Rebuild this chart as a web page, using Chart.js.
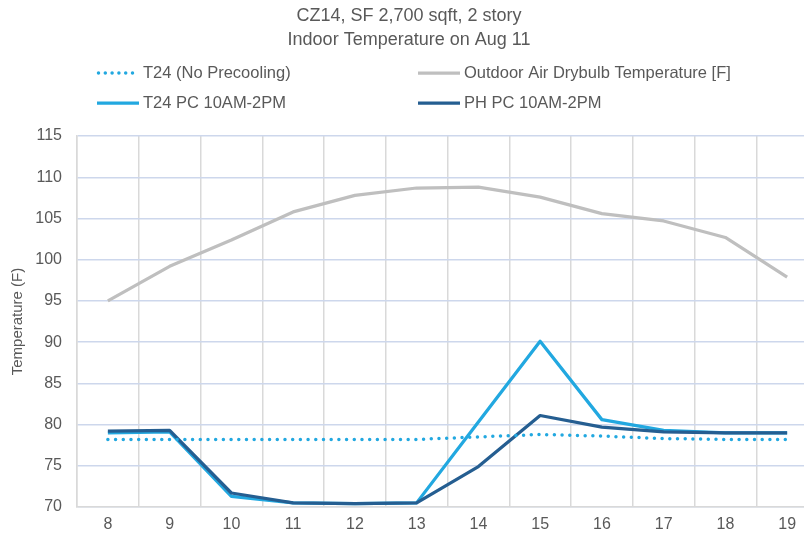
<!DOCTYPE html>
<html>
<head>
<meta charset="utf-8">
<script src="https://cdn.jsdelivr.net/npm/chart.js@4"></script>
<style>
  html, body { margin: 0; padding: 0; background: #ffffff; overflow: hidden; }
  #wrap { position: relative; width: 818px; height: 536px; }
</style>
</head>
<body>
<div id="wrap"><canvas id="chart"></canvas></div>
<script>
// Hour of day (Aug 11)
const hours = ['8', '9', '10', '11', '12', '13', '14', '15', '16', '17', '18', '19'];

// Indoor temperature, T24 house with no precooling (°F)
const t24NoPrecool = [78.2, 78.2, 78.2, 78.2, 78.2, 78.2, 78.5, 78.8, 78.6, 78.3, 78.2, 78.2];
// Outdoor air drybulb temperature (°F)
const outdoorDrybulb = [95.0, 99.2, 102.4, 105.8, 107.8, 108.7, 108.8, 107.6, 105.6, 104.7, 102.7, 97.9];
// T24 house, precooling 10AM-2PM (°F)
const t24Precool = [79.0, 79.1, 71.3, 70.5, 70.4, 70.5, 80.3, 90.1, 80.6, 79.3, 79.0, 79.0];
// Passive house, precooling 10AM-2PM (°F)
const phPrecool = [79.2, 79.3, 71.7, 70.5, 70.4, 70.5, 74.9, 81.1, 79.7, 79.1, 79.0, 79.0];

// Temperature axis range
const yMin = 70, yMax = 115, yStep = 5;

const LIGHT_BLUE = '#22A8E0';
const DARK_BLUE = '#255E91';
const GREY = '#BFBFBF';
const TEXT = '#595959';
const FONT = "'Liberation Sans', Arial, sans-serif";

const seriesLegend = [
  { label: 'T24 (No Precooling)', color: LIGHT_BLUE, dotted: true, col: 0, row: 0 },
  { label: 'Outdoor Air Drybulb Temperature [F]', color: GREY, dotted: false, col: 1, row: 0 },
  { label: 'T24 PC 10AM-2PM', color: LIGHT_BLUE, dotted: false, col: 0, row: 1 },
  { label: 'PH PC 10AM-2PM', color: DARK_BLUE, dotted: false, col: 1, row: 1 }
];

// Two-column legend drawn between the title and the plot
const gridLegend = {
  id: 'gridLegend',
  afterDraw(chart) {
    const ctx = chart.ctx;
    const colX = [97, 418];
    const rowY = [73, 103];
    const sampleLen = 42;
    ctx.save();
    ctx.font = '16.5px ' + FONT;
    ctx.textBaseline = 'middle';
    ctx.textAlign = 'left';
    seriesLegend.forEach(item => {
      const x = colX[item.col];
      const y = rowY[item.row];
      ctx.beginPath();
      ctx.strokeStyle = item.color;
      if (item.dotted) {
        ctx.lineWidth = 3.5;
        ctx.lineCap = 'round';
        ctx.setLineDash([0, 6.8]);
      } else {
        ctx.lineWidth = 3.25;
        ctx.lineCap = 'butt';
        ctx.setLineDash([]);
      }
      ctx.moveTo(x + (item.dotted ? 1.5 : 0), y);
      ctx.lineTo(x + sampleLen, y);
      ctx.stroke();
      ctx.setLineDash([]);
      ctx.fillStyle = TEXT;
      ctx.fillText(item.label, x + sampleLen + 4, y);
    });
    ctx.restore();
  }
};

const common = { pointRadius: 0, pointHoverRadius: 0, tension: 0, borderWidth: 3.25, borderJoinStyle: 'round', fill: false };

new Chart(document.getElementById('chart'), {
  type: 'line',
  data: {
    labels: hours,
    datasets: [
      Object.assign({}, common, { label: 'PH PC 10AM-2PM', data: phPrecool, borderColor: DARK_BLUE, order: 1 }),
      Object.assign({}, common, { label: 'T24 PC 10AM-2PM', data: t24Precool, borderColor: LIGHT_BLUE, order: 2 }),
      Object.assign({}, common, { label: 'T24 (No Precooling)', data: t24NoPrecool, borderColor: LIGHT_BLUE,
        borderWidth: 3.5, borderDash: [0, 7.7], borderCapStyle: 'round', order: 0 }),
      Object.assign({}, common, { label: 'Outdoor Air Drybulb Temperature [F]', data: outdoorDrybulb, borderColor: GREY, order: 3 })
    ]
  },
  options: {
    responsive: true,
    maintainAspectRatio: false,
    animation: false,
    events: [],
    layout: { padding: { left: 0, right: 0, top: 0, bottom: 0 } },
    plugins: {
      legend: { display: false },
      tooltip: { enabled: false },
      title: {
        display: true,
        text: ['CZ14, SF 2,700 sqft, 2 story', 'Indoor Temperature on Aug 11'],
        color: TEXT,
        font: { family: FONT, size: 18, weight: 'normal', lineHeight: 1.28 },
        padding: { top: 5, bottom: 85 }
      }
    },
    scales: {
      x: {
        offset: true,
        grid: { display: true, offset: true, color: '#D9D9D9', lineWidth: 1.5, drawTicks: false },
        border: { display: true, color: '#D9D9D9', width: 1.5 },
        ticks: { color: TEXT, font: { family: FONT, size: 16 }, padding: 8, maxRotation: 0, autoSkip: false },
        afterFit(scale) { scale.height = 29; }
      },
      y: {
        min: yMin,
        max: yMax,
        grid: { color: '#CDD7EC', lineWidth: 1.5, drawTicks: false },
        border: { display: true, color: '#D9D9D9', width: 1.5 },
        ticks: { stepSize: yStep, color: TEXT, font: { family: FONT, size: 16 }, padding: 15 },
        title: {
          display: true,
          text: 'Temperature (F)',
          color: TEXT,
          font: { family: FONT, size: 15 },
          padding: { top: 9, bottom: 0 }
        },
        afterFit(scale) { scale.width = 77; }
      }
    }
  },
  plugins: [gridLegend]
});
</script>
</body>
</html>
